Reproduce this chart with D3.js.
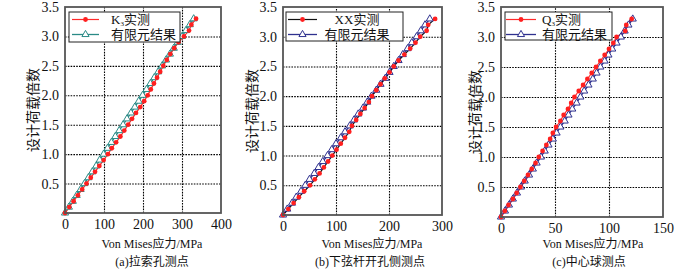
<!DOCTYPE html>
<html>
<head>
<meta charset="utf-8">
<script src="https://cdn.jsdelivr.net/npm/d3@7"></script>
<style>
  body { margin: 0; background: #fff; }
  svg { display: block; }
</style>
</head>
<body>
<div id="content"></div>
<script>
'use strict';
//////////////////// input data
const loadSteps = [0,0.1,0.2,0.3,0.4,0.5,0.6,0.7,0.8,0.9,1.0,1.1,1.2,1.3,1.4,1.5,1.6,1.7,
                   1.8,1.9,2.0,2.1,2.2,2.3,2.4,2.5,2.6,2.7,2.8,2.9,3.0,3.1,3.2,3.3];

// (a) 拉索孔测点
const measA = [0,11,22,33,44,55,66,77,88,99, 110,120,131,142,152,162,172,182,193,203,
               212,220,228,236,244,252,261,270,280,291, 305,318,324,336];
const femA  = [0,10,20,30,40,50,60,70,80,89, 99,109,119,129,139,149,159,169,179,189,
               199,209,219,229,239,249,259,269,279,289, 300,310,320,330];
// (b) 下弦杆开孔侧测点
const measB = [0,10,20,30,40,51,60,69,77,85, 93,101,109,117,125,130,138,146,154,162,
               168,176,184,192,201,209,218,229,240,250, 259,271,274,287];
const femB  = [0,8,17,25,34,42,50,59,67,75, 84,92,100,109,117,126,134,142,151,159,
               167,176,184,193,201,209,218,226,235,243, 252,260,268,277];
// (c) 中心球测点
const measC = [0,3.5,7,11,14.5,18,21.5,25,28.5,32, 35,38.5,42,45.5,48,51,55,58,62,65,
               68,72,76,80,84,88,92,96,100,104, 107,115,116,121];
const femC  = [0,3.7,7.4,11,14.8,18.5,22,26,29.5,33, 37,40.5,44,48,51.5,55,59,62.5,66,70,
               73.5,77,81,85,88.5,92,96,99.5,103,107, 111,114.5,118,122];

const xTicksA = [0,100,200,300,400];
const xTicksB = [0,100,200,300];
const xTicksC = [0,50,100,150];
const yTicks  = [0.5,1.0,1.5,2.0,2.5,3.0,3.5];

const measNameA = ['K','3','实测'];
const measNameB = ['XX','','实测'];
const measNameC = ['Q','3','实测'];
const femName = '有限元结果';
const captions = ['(a)拉索孔测点', '(b)下弦杆开孔侧测点', '(c)中心球测点'];
const xTitle = 'Von Mises应力/MPa';
const yTitle = '设计荷载倍数';

//////////////////// drawing area
const W = 700, H = 271;
const SERIF = '"Liberation Serif","Times New Roman","Noto Sans CJK SC",serif';

const svg = d3.select('#content').append('svg')
    .attr('width', W).attr('height', H)
    .style('font-family', SERIF);

const panels = [
  { left:65,  right:221, top:7, bottom:213, ticks:xTicksA, meas:measA, fem:femA, name:measNameA, cap:captions[0],
    measLine:'#ff2a2a', femColor:'#2a8a86', yTitleX:33, titleX:152, capX:152,
    legend:{ x:69, y:12, w:111, h:30, s1:72, s2:99, tx:111, anchor:'start' } },
  { left:283, right:442, top:7, bottom:215, ticks:xTicksB, meas:measB, fem:femB, name:measNameB, cap:captions[1],
    measLine:'#111', femColor:'#2f318f', yTitleX:252, titleX:372, capX:370,
    legend:{ x:286, y:12, w:117, h:29, s1:288, s2:317, tx:357, anchor:'middle' } },
  { left:501, right:663, top:7, bottom:217, ticks:xTicksC, meas:measC, fem:femC, name:measNameC, cap:captions[2],
    measLine:'#ff2a2a', femColor:'#2f318f', yTitleX:475, titleX:593, capX:589,
    legend:{ x:505, y:12, w:107, h:28, s1:506, s2:536, tx:542, anchor:'start' } }
];

const triangle = d3.symbol().type(d3.symbolTriangle).size(22);

panels.forEach(p => {
  const xScale = d3.scaleLinear()
      .domain([0, d3.max(p.ticks)])
      .range([p.left, p.right]);
  const yScale = d3.scaleLinear()
      .domain([0, 3.5])
      .range([p.bottom, p.top]);

  const g = svg.append('g');

  // grid
  g.append('g')
      .attr('transform', 'translate(0,' + p.bottom + ')')
      .call(d3.axisBottom(xScale).tickValues(p.ticks.slice(1, -1)).tickSize(-(p.bottom - p.top)).tickFormat(''))
      .call(a => a.select('.domain').remove())
      .selectAll('line').attr('stroke', '#000').attr('stroke-width', 1.1).attr('stroke-dasharray', '1.6,1.2');
  g.append('g')
      .attr('transform', 'translate(' + p.left + ',0)')
      .call(d3.axisLeft(yScale).tickValues(yTicks.slice(0, -1)).tickSize(-(p.right - p.left)).tickFormat(''))
      .call(a => a.select('.domain').remove())
      .selectAll('line').attr('stroke', '#000').attr('stroke-width', 1.1).attr('stroke-dasharray', '1.6,1.2');

  // tick labels
  const xAxis = g.append('g')
      .attr('transform', 'translate(0,' + p.bottom + ')')
      .call(d3.axisBottom(xScale).tickValues(p.ticks).tickSize(0).tickPadding(6));
  const yAxis = g.append('g')
      .attr('transform', 'translate(' + p.left + ',0)')
      .call(d3.axisLeft(yScale).tickValues(yTicks).tickSize(0).tickPadding(6).tickFormat(d3.format('.1f')));
  [xAxis, yAxis].forEach(a => {
    a.select('.domain').remove();
    a.selectAll('text').attr('font-family', SERIF).attr('font-size', 14).attr('fill', '#111');
  });

  // series
  const pts = (xs) => xs.map((v, i) => [v, loadSteps[i]]);
  const line = d3.line().x(d => xScale(d[0])).y(d => yScale(d[1]));

  g.append('path').datum(pts(p.fem))
      .attr('d', line).attr('fill', 'none').attr('stroke', p.femColor).attr('stroke-width', 1.3);
  g.append('path').datum(pts(p.meas))
      .attr('d', line).attr('fill', 'none').attr('stroke', p.measLine).attr('stroke-width', 1.2);

  g.selectAll('.fem').data(pts(p.fem)).enter()
    .append('path').attr('class', 'fem')
      .attr('d', triangle)
      .attr('transform', d => 'translate(' + xScale(d[0]) + ',' + yScale(d[1]) + ')')
      .attr('fill', '#fff').attr('stroke', p.femColor).attr('stroke-width', 1);
  g.selectAll('.meas').data(pts(p.meas)).enter()
    .append('circle').attr('class', 'meas')
      .attr('cx', d => xScale(d[0])).attr('cy', d => yScale(d[1]))
      .attr('r', 2.4).attr('fill', '#ff1f1f');

  // frame
  g.append('rect')
      .attr('x', p.left).attr('y', p.top)
      .attr('width', p.right - p.left).attr('height', p.bottom - p.top)
      .attr('fill', 'none').attr('stroke', '#555').attr('stroke-width', 1.8);

  // legend
  const L = p.legend;
  const lg = g.append('g');
  lg.append('rect')
      .attr('x', L.x).attr('y', L.y).attr('width', L.w).attr('height', L.h)
      .attr('fill', '#fff').attr('stroke', '#222').attr('stroke-width', 1);
  const r1 = L.y + 7.5, r2 = L.y + 22.5, mx = (L.s1 + L.s2) / 2;
  lg.append('line').attr('x1', L.s1).attr('x2', L.s2).attr('y1', r1).attr('y2', r1)
      .attr('stroke', p.measLine).attr('stroke-width', 1.2);
  lg.append('circle').attr('cx', mx).attr('cy', r1).attr('r', 2.4).attr('fill', '#ff1f1f');
  lg.append('line').attr('x1', L.s1).attr('x2', L.s2).attr('y1', r2).attr('y2', r2)
      .attr('stroke', p.femColor).attr('stroke-width', 1.3);
  lg.append('path').attr('d', triangle).attr('transform', 'translate(' + mx + ',' + r2 + ')')
      .attr('fill', '#fff').attr('stroke', p.femColor);

  const t1 = lg.append('text').attr('x', L.tx).attr('y', r1 + 4.5)
      .attr('text-anchor', L.anchor).attr('font-size', 13).attr('fill', '#111');
  t1.append('tspan').text(p.name[0]);
  if (p.name[1]) t1.append('tspan').attr('font-size', 7).attr('dy', 2).text(p.name[1]);
  t1.append('tspan').attr('dy', p.name[1] ? -2 : 0).text(p.name[2]);
  lg.append('text').attr('x', L.tx).attr('y', r2 + 4.5)
      .attr('text-anchor', L.anchor).attr('font-size', 13).attr('fill', '#111').text(femName);

  // titles
  g.append('text').attr('x', p.titleX).attr('y', 248)
      .attr('text-anchor', 'middle').attr('font-size', 12).attr('fill', '#111').text(xTitle);
  g.append('text').attr('x', p.capX).attr('y', 266)
      .attr('text-anchor', 'middle').attr('font-size', 12).attr('fill', '#111').text(p.cap);
  g.append('text')
      .attr('transform', 'translate(' + (p.yTitleX + 5) + ',' + ((p.top + p.bottom) / 2) + ') rotate(-90)')
      .attr('text-anchor', 'middle').attr('font-size', 14).attr('fill', '#111').text(yTitle);
});
</script>
</body>
</html>
